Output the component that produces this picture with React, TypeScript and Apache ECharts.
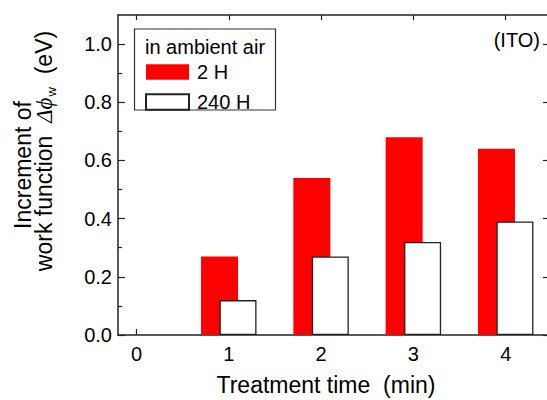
import React, { useEffect, useRef } from "react";
import * as echarts from "echarts";

const categories = [0, 1, 2, 3, 4];
const xTickLabels = ["0", "1", "2", "3", "4"];
const seriesNames = ["2 H", "240 H"];
const air2h: (number | null)[] = [null, 0.27, 0.54, 0.68, 0.64];
const air240h: (number | null)[] = [null, 0.12, 0.27, 0.32, 0.39];
const yMajorTicks = [0, 0.2, 0.4, 0.6, 0.8, 1.0];
const yMinorTicks = [0.1, 0.3, 0.5, 0.7, 0.9];

const FONT = "Liberation Sans, Arial, sans-serif";
const AXIS_COLOR = "#222";

function toPairs(vals: (number | null)[], shift: number) {
  const out: [number, number][] = [];
  vals.forEach((v, i) => {
    if (v !== null) out.push([categories[i] + shift, v]);
  });
  return out;
}

export default function App() {
  const ref = useRef<HTMLDivElement>(null);
  useEffect(() => {
    if (!ref.current) return;
    const chart = echarts.init(ref.current, undefined, { renderer: "svg" });
    const axisLine = { show: true, onZero: false, lineStyle: { color: AXIS_COLOR, width: 1.5 } };
    const xMin = -0.2;
    const xMax = 4.48;
    chart.setOption({
      animation: false,
      backgroundColor: "#fff",
      textStyle: { fontFamily: FONT },
      grid: { left: 118, top: 15, width: 432, height: 320, outerBoundsMode: "none", containLabel: false },
      legend: {
        orient: "vertical",
        left: 145,
        top: 62,
        padding: 0,
        itemWidth: 43,
        itemHeight: 15.5,
        itemGap: 10,
        icon: "rect",
        data: seriesNames,
        textStyle: { fontSize: 20, lineHeight: 15.5, fontFamily: FONT, color: "#000", padding: [0, 0, 0, 3] },
      },
      xAxis: [
        {
          type: "value",
          position: "bottom",
          min: xMin,
          max: xMax,
          axisLine,
          splitLine: { show: false },
          axisTick: { show: true, inside: true, length: 6, customValues: categories, lineStyle: { color: AXIS_COLOR, width: 1.2 } },
          axisLabel: {
            show: true,
            customValues: categories,
            formatter: (v: number) => xTickLabels[categories.indexOf(Math.round(v))] ?? "",
            fontSize: 20,
            color: "#000",
            fontFamily: FONT,
            margin: 9,
          },
          name: "Treatment time  (min)",
          nameLocation: "middle",
          nameGap: 38,
          nameTextStyle: { fontSize: 23, color: "#000", fontFamily: FONT, padding: [0, 16, 0, 0] },
        },
        {
          type: "value",
          position: "top",
          min: xMin,
          max: xMax,
          axisLine,
          splitLine: { show: false },
          axisTick: { show: true, inside: true, length: 5, customValues: categories, lineStyle: { color: AXIS_COLOR, width: 1.2 } },
          axisLabel: { show: false },
        },
      ],
      yAxis: [
        {
          type: "value",
          position: "left",
          min: 0,
          max: 1.1,
          axisLine,
          splitLine: { show: false },
          axisTick: { show: true, inside: true, length: 7, customValues: yMajorTicks, lineStyle: { color: AXIS_COLOR, width: 1.2 } },
          axisLabel: {
            show: true,
            customValues: yMajorTicks,
            formatter: (v: number) => v.toFixed(1),
            fontSize: 20,
            color: "#000",
            fontFamily: FONT,
            margin: 6,
          },
        },
        {
          type: "value",
          position: "left",
          min: 0,
          max: 1.1,
          axisLine: { show: false, onZero: false },
          splitLine: { show: false },
          axisTick: { show: true, inside: true, length: 4, customValues: yMinorTicks, lineStyle: { color: AXIS_COLOR, width: 1.2 } },
          axisLabel: { show: false },
        },
        {
          type: "value",
          position: "right",
          min: 0,
          max: 1.1,
          axisLine: { show: false, onZero: false },
          splitLine: { show: false },
          axisTick: { show: true, inside: true, length: 7, customValues: yMajorTicks, lineStyle: { color: AXIS_COLOR, width: 1.2 } },
          axisLabel: { show: false },
        },
      ],
      series: [
        {
          name: seriesNames[0],
          type: "bar",
          xAxisIndex: 0,
          yAxisIndex: 0,
          barWidth: 37,
          barGap: "-100%",
          itemStyle: { color: "#ff0000" },
          data: toPairs(air2h, -0.1),
        },
        {
          name: seriesNames[1],
          type: "bar",
          xAxisIndex: 0,
          yAxisIndex: 0,
          barWidth: 37,
          barGap: "-100%",
          itemStyle: { color: "#ffffff", borderColor: "#222", borderWidth: 1.3 },
          data: toPairs(air240h, 0.1),
        },
      ],
      graphic: [
        {
          type: "rect",
          shape: { x: 134.5, y: 29, width: 141, height: 81 },
          style: { fill: "none", stroke: "#333", lineWidth: 1.2 },
          silent: true,
        },
        {
          type: "text",
          x: 145,
          y: 47,
          style: { text: "in ambient air", fontSize: 20, fontFamily: FONT, fill: "#000", align: "left", verticalAlign: "middle" },
        },
        {
          type: "text",
          x: 540,
          y: 40,
          style: { text: "(ITO)", fontSize: 20, fontFamily: FONT, fill: "#000", align: "right", verticalAlign: "middle" },
        },
        {
          type: "text",
          x: 23,
          y: 165,
          rotation: Math.PI / 2,
          style: { text: "Increment of", fontSize: 23, fontFamily: FONT, fill: "#000", align: "center", verticalAlign: "middle" },
        },
        {
          type: "text",
          x: 44,
          y: 151,
          rotation: Math.PI / 2,
          style: {
            text: "work function  {it|Δϕ}{sub|w}  (eV)",
            fontSize: 23,
            fontFamily: FONT,
            fill: "#000",
            align: "center",
            verticalAlign: "middle",
            rich: {
              it: { fontSize: 23, fontStyle: "italic", fontFamily: "Liberation Serif, DejaVu Serif, serif", fill: "#000" },
              sub: { fontSize: 13, fontFamily: FONT, fill: "#000", padding: [14, 0, 0, 1] },
            },
          },
        },
      ],
    });
    return () => chart.dispose();
  }, []);
  return (
    <div style={{ position: "fixed", left: 0, top: 0, width: 547, height: 400, overflow: "hidden", background: "#fff" }}>
      <div ref={ref} style={{ width: 560, height: 400 }} />
    </div>
  );
}
